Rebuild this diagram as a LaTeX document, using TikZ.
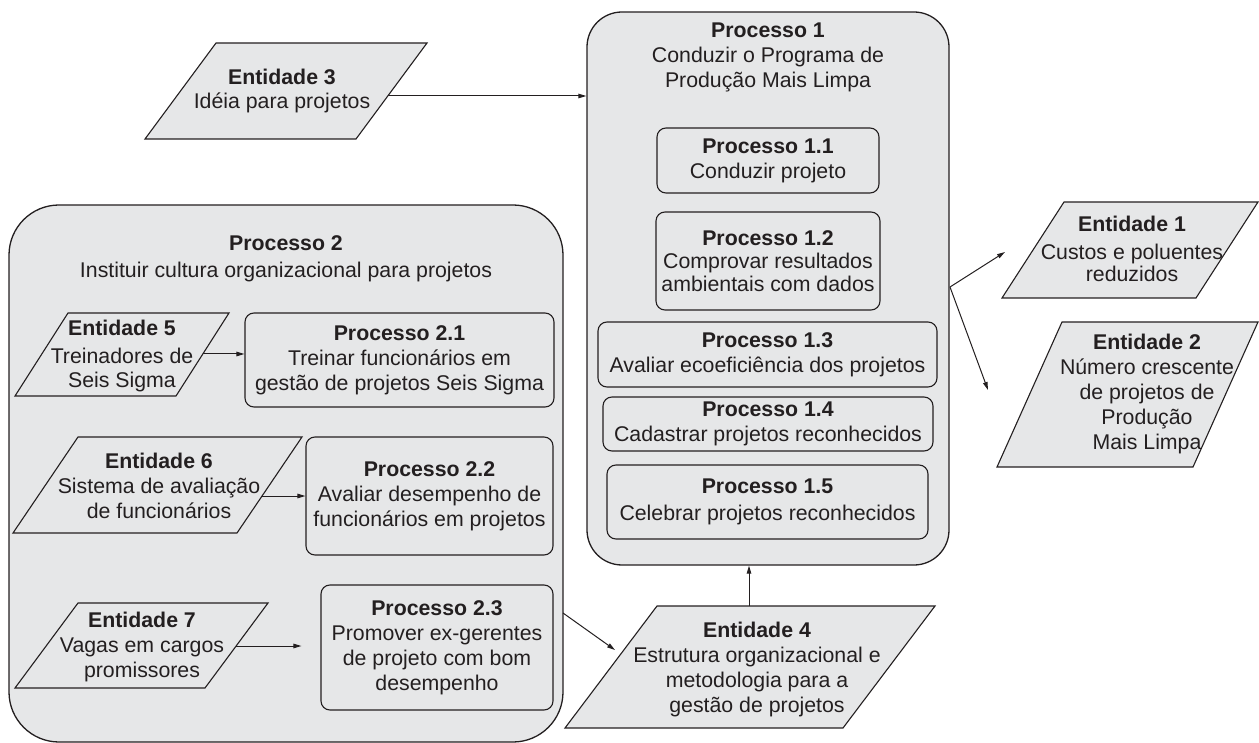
\documentclass[tikz,border=0pt]{standalone}
\usepackage{fontspec}
\setmainfont{Liberation Sans}
\usetikzlibrary{arrows.meta}
\definecolor{ink}{HTML}{231F20}
\definecolor{panel}{HTML}{E6E7E8}
\tikzset{
  bigbox/.style={draw=ink, fill=panel, line width=1.3pt, inner sep=0pt},
  procbox/.style={draw=ink, fill=panel, line width=1.1pt, rounded corners=9pt,
    align=center, inner sep=0pt, text=ink},
  txt/.style={align=center, inner sep=0pt, text=ink},
  entshape/.style={draw=ink, fill=panel, line width=1.1pt, line join=miter},
  conn/.style={draw=ink, line width=1pt, -{Triangle[length=8pt,width=4.5pt]}},
}
\begin{document}
\begin{tikzpicture}[x=1pt, y=-1pt, font=\fontsize{21.3}{25}\selectfont]
\useasboundingbox (0,0) rectangle (1259,743);

% ---- Processo 1 (outer) ----
\node[bigbox, rounded corners=35pt, minimum width=362pt, minimum height=553pt] (p1) at (768,288.5) {};
\node[txt] (p1t) at (768,57) {\textbf{Processo 1}\\Conduzir o Programa de\\Produção Mais Limpa};

\node[procbox, minimum width=222pt, minimum height=65pt] (p11) at (768,160.5)
  {\textbf{Processo 1.1}\\Conduzir projeto};
\node[procbox, minimum width=224pt, minimum height=98pt] (p12) at (768,261)
  {\textbf{Processo 1.2}\\[-2pt]Comprovar resultados\\[-2pt]ambientais com dados};
\node[procbox, minimum width=339pt, minimum height=65pt] (p13) at (767.5,354.5)
  {\textbf{Processo 1.3}\\Avaliar ecoeficiência dos projetos};
\node[procbox, minimum width=330pt, minimum height=54pt] (p14) at (768,424)
  {\textbf{Processo 1.4}\\Cadastrar projetos reconhecidos};
\node[procbox, minimum width=321pt, minimum height=74pt] (p15) at (767.5,502)
  {\textbf{Processo 1.5}\\[2pt]Celebrar projetos reconhecidos};

% ---- Processo 2 (outer) ----
\node[bigbox, rounded corners=50pt, minimum width=554pt, minimum height=537pt] (p2) at (286,473.5) {};
\node[txt] (p2t) at (286,258.5) {\textbf{Processo 2}\\[2pt]Instituir cultura organizacional para projetos};

\node[procbox, minimum width=309pt, minimum height=94pt] (p21) at (399.5,360)
  {\textbf{Processo 2.1}\\Treinar funcionários em\\gestão de projetos Seis Sigma};
\node[procbox, minimum width=247pt, minimum height=118pt] (p22) at (429.5,496)
  {\textbf{Processo 2.2}\\Avaliar desempenho de\\funcionários em projetos};
\node[procbox, minimum width=232pt, minimum height=125pt] (p23) at (437,647.5)
  {\textbf{Processo 2.3}\\Promover ex-gerentes\\de projeto com bom\\desempenho};

% ---- Entidades (data parallelograms) ----
\path[entshape] (145,139) -- (356,139) -- (427,43) -- (216,43) -- cycle;
\node[txt] (e3) at (282,91) {\textbf{Entidade 3}\\[-1pt]Idéia para projetos};

\path[entshape] (1002,298) -- (1196,298) -- (1258,202) -- (1064,202) -- cycle;
\node[txt] (e1) at (1132,249) {\textbf{Entidade 1}\\[3pt]Custos e poluentes\\[-3pt]reduzidos};

\path[entshape] (997,467) -- (1193,467) -- (1258,322) -- (1062,322) -- cycle;
\node[txt] (e2) at (1147,394) {\textbf{Entidade 2}\\Número crescente\\de projetos de\\Produção\\Mais Limpa};

\path[entshape] (565,728) -- (843,728) -- (935,606) -- (657,606) -- cycle;
\node[txt] (e4) at (757,669) {\textbf{Entidade 4}\\Estrutura organizacional e\\metodologia para a\\gestão de projetos};

\path[entshape] (15,396) -- (176,396) -- (229,313) -- (68,313) -- cycle;
\node[txt] (e5) at (122,356) {\textbf{Entidade 5}\\[3pt]Treinadores de\\[-1pt]Seis Sigma};

\path[entshape] (13,533) -- (237,533) -- (302,437) -- (78,437) -- cycle;
\node[txt] (e6) at (159,486) {\textbf{Entidade 6}\\Sistema de avaliação\\de funcionários};

\path[entshape] (15,688) -- (205,688) -- (268,603) -- (78,603) -- cycle;
\node[txt] (e7) at (142,647) {\textbf{Entidade 7}\\Vagas em cargos\\promissores};

% ---- Connectors ----
\coordinate (e3out) at (388,96);
\draw[conn] (e3out) -- (e3out -| p1.west);

\coordinate (e5out) at (203,354);
\draw[conn] (e5out) -- (e5out -| p21.west);

\coordinate (e6out) at (262,496);
\draw[conn] (e6out) -- (e6out -| p22.west);

\coordinate (e7out) at (236,646);
\draw[conn, shorten >=19pt] (e7out) -- (e7out -| p23.west);

\coordinate (p2out) at (563,613);
\coordinate (e4in) at (615,650);
\draw[conn] (p2out) -- (e4in);

\coordinate (e4top) at (749,606);
\draw[conn] (e4top) -- (e4top |- p1.south);

\coordinate (p1out) at (950,287);
\coordinate (e1in) at (1005,252);
\coordinate (e2in) at (988,390);
\draw[conn] (p1out) -- (e1in);
\draw[conn] (p1out) -- (e2in);
\end{tikzpicture}
\end{document}
